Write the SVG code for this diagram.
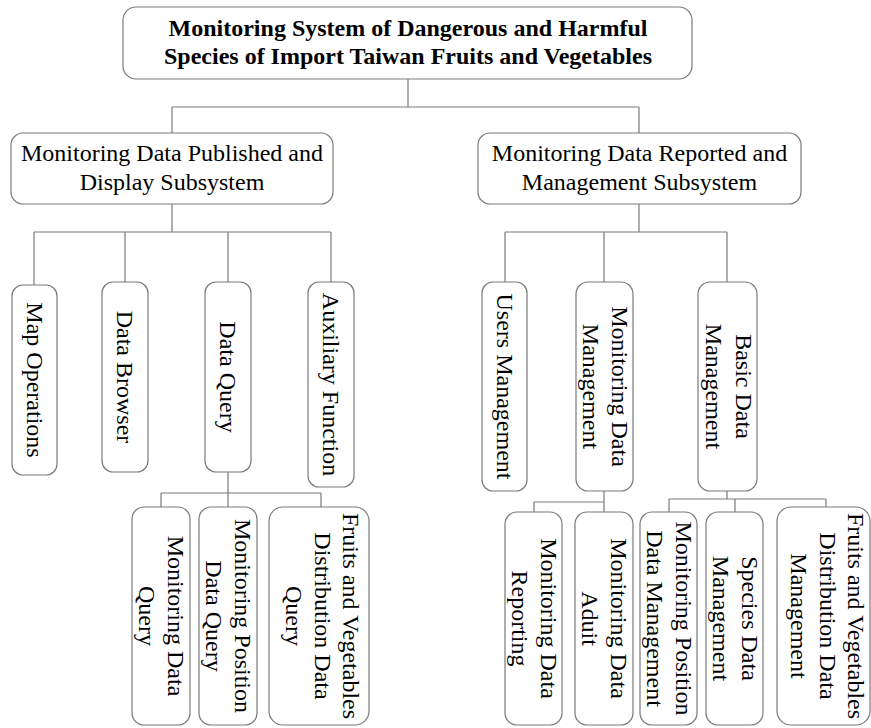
<svg xmlns="http://www.w3.org/2000/svg" width="871" height="728" viewBox="0 0 871 728">
<style>
.box{fill:#fff;stroke:#7a7a7a;stroke-width:1.2}
.ln{fill:none;stroke:#7a7a7a;stroke-width:1.2}
text{font-family:"Liberation Serif","Times New Roman",serif;font-size:24px;fill:#000}
.t{font-weight:bold}
.m{text-anchor:middle}
</style>
<rect width="871" height="728" fill="#fff"/>
<g id="connectors">
<path class="ln" d="M408,79V107M172,107H639M172,107V133M639,107V133"/>
<path class="ln" d="M172,204V232M34,232H331M34,232V285M125,232V282M228,232V282M331,232V282"/>
<path class="ln" d="M228,472V493M161,493H321M161,493V507M228,493V507M321,493V507"/>
<path class="ln" d="M639,204V232M505,232H727M505,232V282M604,232V282M727,232V282"/>
<path class="ln" d="M604,491V502M534,502H604M534,502V512M604,502V512"/>
<path class="ln" d="M727,491V499M669,499H826M669,499V512M735,499V512M826,499V507"/>
</g>
<g id="root">
<rect class="box" x="123" y="7" width="569" height="72" rx="13"/>
<text class="t m" x="408" y="36">Monitoring System of Dangerous and Harmful</text>
<text class="t m" x="408" y="64">Species of Import Taiwan Fruits and Vegetables</text>
</g>
<g id="sub-left">
<rect class="box" x="11" y="133" width="322" height="71" rx="12"/>
<text class="m" x="172" y="161">Monitoring Data Published and</text>
<text class="m" x="172" y="190">Display Subsystem</text>
</g>
<g id="sub-right">
<rect class="box" x="478" y="133" width="323" height="71" rx="12"/>
<text class="m" x="639.5" y="161">Monitoring Data Reported and</text>
<text class="m" x="639.5" y="190">Management Subsystem</text>
</g>
<g id="map-operations">
<rect class="box" x="12" y="285" width="45" height="190" rx="11"/>
<g transform="translate(34.5,380) rotate(90)"><text class="m" y="8">Map Operations</text></g>
</g>
<g id="data-browser">
<rect class="box" x="102" y="282" width="46" height="190" rx="11"/>
<g transform="translate(125,377) rotate(90)"><text class="m" y="8">Data Browser</text></g>
</g>
<g id="data-query">
<rect class="box" x="205" y="282" width="46" height="190" rx="11"/>
<g transform="translate(228,377) rotate(90)"><text class="m" y="8">Data Query</text></g>
</g>
<g id="auxiliary-function">
<rect class="box" x="308" y="282" width="46" height="205" rx="11"/>
<g transform="translate(331,384.5) rotate(90)"><text class="m" y="8">Auxiliary Function</text></g>
</g>
<g id="users-management">
<rect class="box" x="482" y="282" width="45" height="209" rx="11"/>
<g transform="translate(504.5,386.5) rotate(90)"><text class="m" y="8">Users Management</text></g>
</g>
<g id="monitoring-data-management">
<rect class="box" x="576" y="282" width="57" height="209" rx="12"/>
<g transform="translate(604.5,386.5) rotate(90)"><text class="m" y="-7">Monitoring Data</text><text class="m" y="22">Management</text></g>
</g>
<g id="basic-data-management">
<rect class="box" x="698" y="282" width="59" height="209" rx="12"/>
<g transform="translate(727.5,386.5) rotate(90)"><text class="m" y="-8">Basic Data</text><text class="m" y="22">Management</text></g>
</g>
<g id="monitoring-data-query">
<rect class="box" x="132" y="507" width="58" height="218" rx="12"/>
<g transform="translate(161,616) rotate(90)"><text class="m" y="-7">Monitoring Data</text><text class="m" y="22">Query</text></g>
</g>
<g id="monitoring-position-data-query">
<rect class="box" x="199" y="507" width="58" height="218" rx="12"/>
<g transform="translate(228,616) rotate(90)"><text class="m" y="-7">Monitoring Position</text><text class="m" y="22">Data Query</text></g>
</g>
<g id="fruits-vegetables-distribution-data-query">
<rect class="box" x="269" y="507" width="100" height="218" rx="14"/>
<g transform="translate(319,616) rotate(90)"><text class="m" y="-24">Fruits and Vegetables</text><text class="m" y="4">Distribution Data</text><text class="m" y="33">Query</text></g>
</g>
<g id="monitoring-data-reporting">
<rect class="box" x="505" y="512" width="57" height="213" rx="12"/>
<g transform="translate(533.5,618.5) rotate(90)"><text class="m" y="-7">Monitoring Data</text><text class="m" y="22">Reporting</text></g>
</g>
<g id="monitoring-data-aduit">
<rect class="box" x="575" y="512" width="58" height="213" rx="12"/>
<g transform="translate(604,618.5) rotate(90)"><text class="m" y="-7">Monitoring Data</text><text class="m" y="22">Aduit</text></g>
</g>
<g id="monitoring-position-data-management">
<rect class="box" x="640" y="512" width="57" height="213" rx="12"/>
<g transform="translate(668.5,618.5) rotate(90)"><text class="m" y="-7">Monitoring Position</text><text class="m" y="22">Data Management</text></g>
</g>
<g id="species-data-management">
<rect class="box" x="706" y="512" width="57" height="213" rx="12"/>
<g transform="translate(734.5,618.5) rotate(90)"><text class="m" y="-7">Species Data</text><text class="m" y="22">Management</text></g>
</g>
<g id="fruits-vegetables-distribution-data-management">
<rect class="box" x="777" y="507" width="93" height="218" rx="14"/>
<g transform="translate(823.5,616) rotate(90)"><text class="m" y="-24">Fruits and Vegetables</text><text class="m" y="4">Distribution Data</text><text class="m" y="33">Management</text></g>
</g>
</svg>
